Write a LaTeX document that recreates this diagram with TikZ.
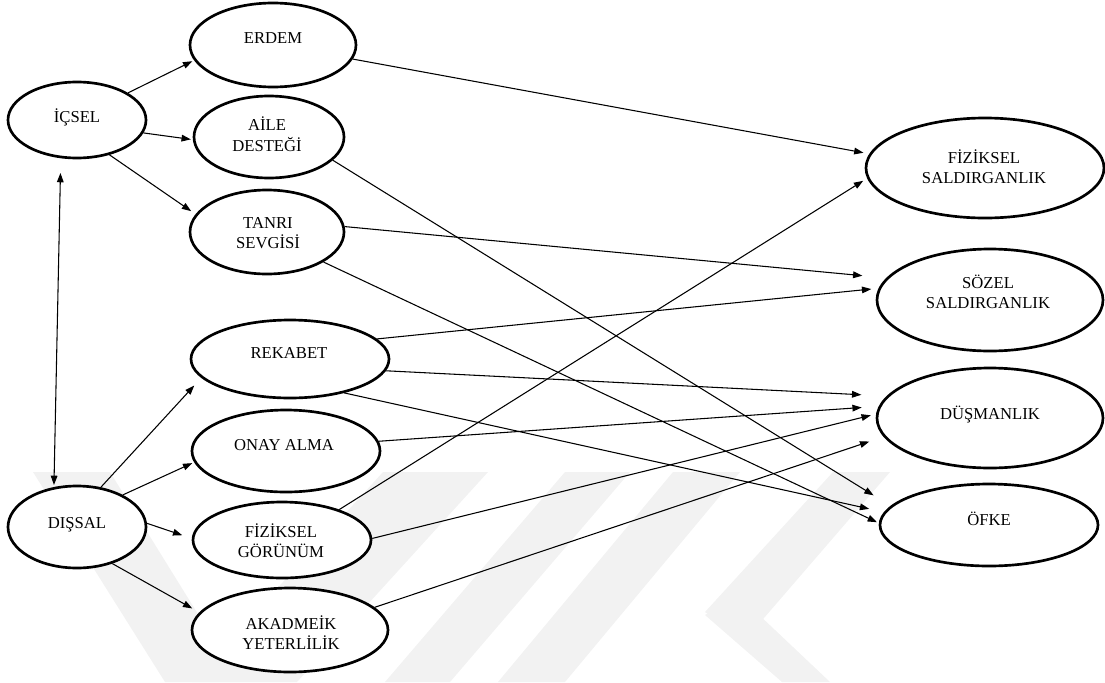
\documentclass[tikz,border=0pt]{standalone}
\usepackage{fontspec}
\setmainfont{Liberation Serif}
\usetikzlibrary{shapes.geometric,arrows.meta}
\begin{document}
\begin{tikzpicture}[x=0.75pt,y=-0.75pt,
  ell/.style={ellipse,draw,fill=white,line width=2pt,inner sep=0pt},
  lbl/.style={font=\fontsize{12.5}{15}\selectfont,align=center,inner sep=0pt},
  arr/.style={line width=0.8pt,-{Triangle[length=7pt,width=5pt]}},
  arrtwo/.style={line width=0.8pt,{Triangle[length=7pt,width=5pt]}-{Triangle[length=7pt,width=5pt]}},
  wmark/.style={fill=black!5,draw=none},
]
\useasboundingbox (0,0) rectangle (1105,682);

% faint background watermark
\fill[wmark] (33,472) -- (110,472) -- (240,682) -- (165,682) -- cycle;
\fill[wmark] (383,472) -- (488,472) -- (297,682) -- (192,682) -- cycle;
\fill[wmark] (565,472) -- (630,472) -- (450,682) -- (385,682) -- cycle;
\fill[wmark] (673,472) -- (740,472) -- (565,682) -- (498,682) -- cycle;
\fill[wmark] (833,472) -- (890,472) -- (745,640) -- (705,612) -- cycle;
\fill[wmark] (705,615) -- (738,595) -- (830,682) -- (782,682) -- cycle;

% ellipses
\node[ell,minimum width=103.5pt,minimum height=57pt]   (icsel)   at (77,120)  {};
\node[ell,minimum width=124.5pt,minimum height=63pt]   (erdem)   at (273,45)  {};
\node[ell,minimum width=112.5pt,minimum height=61.5pt] (aile)    at (269,137) {};
\node[ell,minimum width=115.5pt,minimum height=63pt]   (tanri)   at (267,232) {};
\node[ell,minimum width=103.5pt,minimum height=61.5pt] (dissal)  at (77,527)  {};
\node[ell,minimum width=148.5pt,minimum height=58.5pt] (rekabet) at (290,359) {};
\node[ell,minimum width=141pt,minimum height=61.5pt]   (onay)    at (286,451) {};
\node[ell,minimum width=133.5pt,minimum height=57pt]   (fizg)    at (282,540) {};
\node[ell,minimum width=147pt,minimum height=63pt]     (akad)    at (290,630) {};
\node[ell,minimum width=178.5pt,minimum height=75pt]   (fizs)    at (985,168) {};
\node[ell,minimum width=169.5pt,minimum height=76.5pt] (sozel)   at (990,300) {};
\node[ell,minimum width=169.5pt,minimum height=75pt]   (dusman)  at (990,418) {};
\node[ell,minimum width=163.5pt,minimum height=61.5pt] (ofke)    at (989,525) {};

% texts
\node[lbl] (ticsel)   at (77,118)  {\strut İÇSEL};
\node[lbl] (terdem)   at (273,39)  {\strut ERDEM};
\node[lbl] (taile)    at (267,137) {\strut AİLE\\\strut DESTEĞİ};
\node[lbl] (ttanri)   at (268,234) {\strut TANRI\\\strut SEVGİSİ};
\node[lbl] (tdissal)  at (77,524)  {\strut DIŞSAL};
\node[lbl] (trekabet) at (289,354) {\strut REKABET};
\node[lbl] (tonay)    at (284,446) {\strut ONAY ALMA};
\node[lbl] (tfizg)    at (281,543) {\strut FİZİKSEL\\\strut GÖRÜNÜM};
\node[lbl] (takad)    at (291,635) {\strut AKADMEİK\\\strut YETERLİLİK};
\node[lbl] (tfizs)    at (984,169) {\strut FİZİKSEL\\\strut SALDIRGANLIK};
\node[lbl] (tsozel)   at (988,294) {\strut SÖZEL\\\strut SALDIRGANLIK};
\node[lbl] (tdusman)  at (990,415) {\strut DÜŞMANLIK};
\node[lbl] (tofke)    at (989,521) {\strut ÖFKE};

% left connectors
\draw[arr,shorten >=1.5pt] (icsel.28) -- (erdem.191);
\draw[arr,shorten >=1.5pt] (icsel.-11) -- (aile.182);
\draw[arr,shorten >=4pt] (icsel.-47) -- (tanri.166);
\draw[arrtwo,shorten <=11pt,shorten >=1.5pt] (icsel.-113) -- (dissal.120);
\draw[arr,shorten >=7.8pt] (dissal.59) -- (rekabet.192);
\draw[arr,shorten >=1.5pt] (dissal.35) -- (onay.187);
\draw[arr,shorten >=7.5pt] (dissal.3) -- (fizg.179);
\draw[arr,shorten >=6pt] (dissal.-46) -- (akad.169);

% right connectors
\draw[arr,shorten >=4.5pt] (erdem.-10) -- (fizs.173);
\draw[arr,shorten >=15pt] (aile.-20) -- (ofke.169);
\draw[arr,shorten >=18pt] (tanri.4) -- (sozel.168);
\draw[arr,shorten >=1.5pt] (tanri.-28) -- (ofke.179);
\draw[arr,shorten >=5.5pt] (rekabet.13) -- (sozel.174);
\draw[arr,shorten >=19pt] (rekabet.-7) -- (dusman.168);
\draw[arr,shorten >=11.3pt] (rekabet.-32) -- (ofke.173);
\draw[arr,shorten >=12.75pt] (onay.6) -- (dusman.174);
\draw[arr,shorten >=3.5pt] (fizg.28) -- (fizs.185);
\draw[arr,shorten >=4pt] (fizg.1) -- (dusman.178);
\draw[arr,shorten >=11.3pt] (akad.15) -- (dusman.190);
\end{tikzpicture}
\end{document}
